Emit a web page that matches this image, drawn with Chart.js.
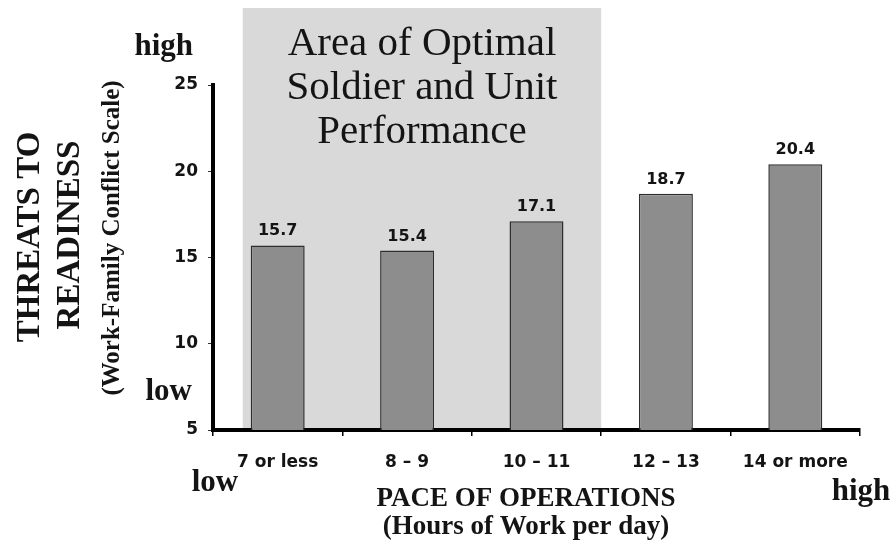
<!DOCTYPE html>
<html>
<head>
<meta charset="utf-8">
<script src="https://cdn.jsdelivr.net/npm/chart.js@4.4.1/dist/chart.umd.min.js"></script>
<style>
  html, body { margin: 0; padding: 0; background: #fff; }
  canvas { display: block; }
</style>
</head>
<body>
<canvas id="c" width="896" height="541"></canvas>
<script>
// ---- data ----
const categories = ['7 or less', '8 – 9', '10 – 11', '12 – 13', '14 or more'];
const values = [15.7, 15.4, 17.1, 18.7, 20.4];
const yTickValues = [5, 10, 15, 20, 25];
const titleLines = ['Area of Optimal', 'Soldier and Unit', 'Performance'];
const yTitleLines = ['THREATS TO', 'READINESS'];
const ySubTitle = '(Work-Family Conflict Scale)';
const xTitleLines = ['PACE OF OPERATIONS', '(Hours of Work per day)'];
const optimalRange = [-0.27, 2.5]; // category-index span of the shaded region

const TEXT = '#141414';

const backgroundPlugin = {
  id: 'background',
  beforeDraw(chart) {
    const { ctx, chartArea, scales: { x } } = chart;
    ctx.save();
    ctx.fillStyle = '#ffffff';
    ctx.fillRect(0, 0, chart.width, chart.height);
    const x0 = x.getPixelForValue(optimalRange[0]);
    const x1 = x.getPixelForValue(optimalRange[1]);
    ctx.fillStyle = '#d9d9d9';
    ctx.fillRect(x0, 8, x1 - x0, chartArea.bottom - 8);
    ctx.fillStyle = TEXT;
    ctx.font = '41px "Liberation Serif", "Times New Roman", serif';
    ctx.textAlign = 'center';
    ctx.textBaseline = 'alphabetic';
    const cx = (x0 + x1) / 2;
    titleLines.forEach((t, i) => ctx.fillText(t, cx, 55 + i * 44));
    ctx.restore();
  }
};

const labelsPlugin = {
  id: 'valueLabels',
  afterDatasetsDraw(chart) {
    const { ctx } = chart;
    const meta = chart.getDatasetMeta(0);
    ctx.save();
    ctx.fillStyle = TEXT;
    ctx.font = 'bold 16px "DejaVu Sans", sans-serif';
    ctx.textAlign = 'center';
    ctx.textBaseline = 'alphabetic';
    meta.data.forEach((bar, i) => {
      ctx.fillText(values[i].toFixed(1), bar.x, bar.y - 10);
    });
    ctx.restore();
  }
};

const axisTextPlugin = {
  id: 'axisText',
  afterDraw(chart) {
    const { ctx } = chart;
    ctx.save();
    ctx.fillStyle = TEXT;
    ctx.textAlign = 'center';
    ctx.textBaseline = 'middle';
    const rot = (text, x, y, font) => {
      ctx.save();
      ctx.translate(x, y);
      ctx.rotate(-Math.PI / 2);
      ctx.font = font;
      ctx.fillText(text, 0, 0);
      ctx.restore();
    };
    rot(yTitleLines[0], 30, 237, 'bold 33px "Liberation Serif", serif');
    rot(yTitleLines[1], 70, 235, 'bold 33px "Liberation Serif", serif');
    rot(ySubTitle, 113, 238, 'bold 25px "Liberation Serif", serif');

    ctx.textBaseline = 'alphabetic';
    ctx.font = 'bold 31px "Liberation Serif", serif';
    ctx.textAlign = 'right';
    ctx.fillText('high', 193, 55);
    ctx.fillText('low', 192, 400);
    ctx.textAlign = 'center';
    ctx.fillText('low', 215, 491);
    ctx.fillText('high', 861, 500);

    ctx.font = 'bold 27px "Liberation Serif", serif';
    ctx.fillText(xTitleLines[0], 526, 506);
    ctx.fillText(xTitleLines[1], 526, 534);
    ctx.restore();
  }
};

new Chart(document.getElementById('c'), {
  type: 'bar',
  data: {
    labels: categories,
    datasets: [{
      data: values,
      backgroundColor: '#8d8d8d',
      borderColor: '#2e2e2e',
      borderWidth: 1.5,
      barPercentage: 0.417,
      categoryPercentage: 1
    }]
  },
  options: {
    responsive: false,
    animation: false,
    devicePixelRatio: 1,
    layout: { padding: { left: 153, right: 36, top: 85, bottom: 0 } },
    plugins: { legend: { display: false }, tooltip: { enabled: false }, title: { display: false } },
    scales: {
      x: {
        offset: true,
        grid: { display: true, drawOnChartArea: false, drawTicks: true, tickLength: 6, color: '#000', lineWidth: 1.5, offset: true },
        border: { display: true, color: '#000', width: 4 },
        ticks: { color: TEXT, font: { family: 'DejaVu Sans', weight: 'bold', size: 17 }, padding: 16, maxRotation: 0, autoSkip: false },
        afterFit(s) { s.height = 111; }
      },
      y: {
        min: 5,
        max: 25,
        grid: { display: true, drawOnChartArea: false, drawTicks: true, tickLength: 5, color: '#333', lineWidth: 1 },
        border: { display: true, color: '#000', width: 4 },
        ticks: {
          stepSize: 5,
          color: TEXT,
          font: { family: 'DejaVu Sans', weight: 'bold', size: 17 },
          padding: 10,
          callback: (v) => (yTickValues.includes(v) ? String(v) : '')
        },
        afterFit(s) { s.width = 60; }
      }
    }
  },
  plugins: [backgroundPlugin, labelsPlugin, axisTextPlugin]
});
</script>
</body>
</html>
